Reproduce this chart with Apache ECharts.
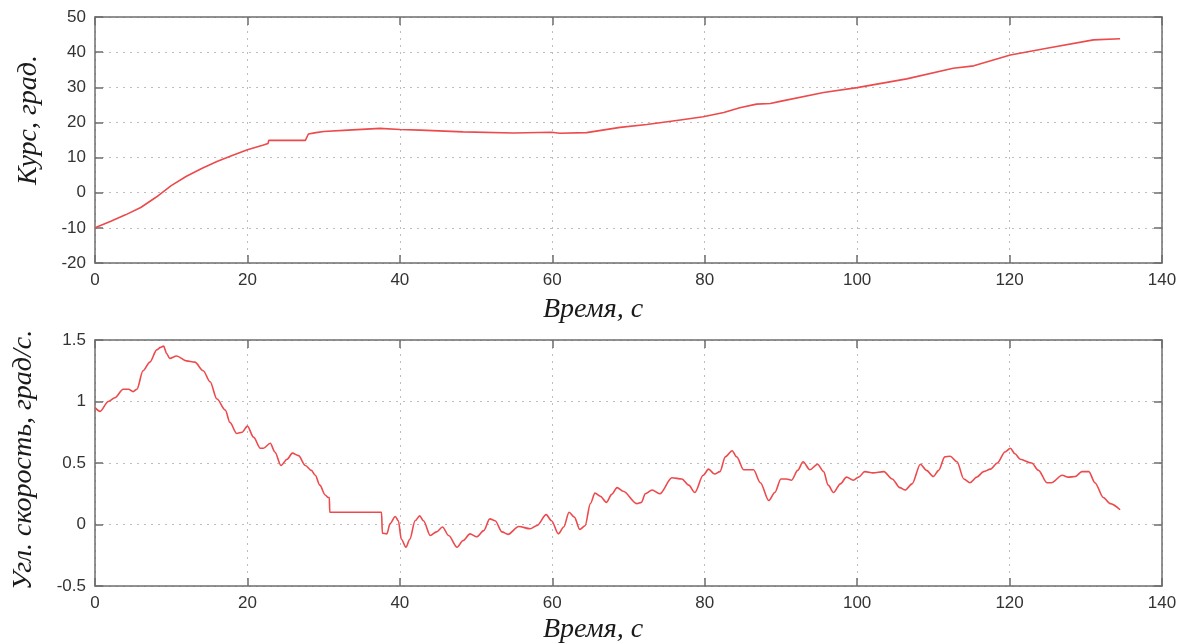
<!DOCTYPE html>
<html>
<head>
<meta charset="utf-8">
<script src="https://cdn.jsdelivr.net/npm/echarts@6/dist/echarts.min.js"></script>
<style>
  html, body { margin: 0; padding: 0; background: #fff; }
  #chart { width: 1184px; height: 644px; }
</style>
</head>
<body>
<div id="chart"></div>
<script>
// Heading, deg, over time
const courseT = [0, 2, 4, 6, 8, 10, 12, 14, 16, 18, 20, 22, 22.7, 22.8, 27.6, 28.0, 29.0, 30.0, 33.2, 37.4, 40.0, 42.7, 48.3, 54.9, 59.9, 61.0, 64.5, 68.9, 72.4, 76.8, 79.8, 82.5, 84.6, 86.8, 88.6, 89.9, 95.6, 100.0, 106.5, 112.6, 115.3, 120.1, 124.9, 131.0, 134.5];
const courseV = [-10, -8.2, -6.3, -4.2, -1.3, 2.0, 4.7, 6.9, 8.9, 10.6, 12.2, 13.5, 14.0, 14.9, 14.9, 16.7, 17.1, 17.4, 17.8, 18.3, 18.0, 17.8, 17.3, 17.0, 17.2, 16.9, 17.1, 18.6, 19.4, 20.7, 21.6, 22.8, 24.2, 25.2, 25.4, 26.0, 28.5, 29.9, 32.4, 35.4, 36.1, 39.2, 41.1, 43.5, 43.8];

// Angular rate, deg/s, over time
const rateT = [0, 0.66, 1.75, 2.6, 3.7, 4.4, 5.0, 5.5, 6.3, 7.2, 8.1, 8.6, 9.0, 9.4, 9.8, 10.7, 12.0, 13.1, 14.2, 15.1, 16.0, 17.1, 17.7, 18.6, 19.3, 20.0, 20.8, 21.7, 22.1, 23.0, 23.6, 24.4, 25.2, 25.9, 26.7, 27.6, 28.4, 28.9, 29.5, 30.2, 30.6, 30.75, 30.8, 37.6, 37.7, 38.3, 38.7, 39.4, 39.8, 40.2, 40.8, 41.3, 42.0, 42.6, 43.1, 44.0, 44.8, 45.6, 46.4, 47.5, 48.3, 49.2, 50.1, 51.0, 51.8, 52.5, 53.4, 54.2, 55.6, 57.1, 58.0, 59.2, 59.9, 60.8, 61.5, 62.2, 62.9, 63.6, 64.3, 65.0, 65.6, 66.3, 67.1, 67.8, 68.5, 69.3, 71.1, 71.7, 72.2, 73.1, 74.1, 75.7, 77.0, 77.9, 78.7, 79.8, 80.5, 81.3, 82.0, 82.7, 83.6, 84.2, 85.1, 86.4, 87.3, 88.4, 89.2, 90.0, 90.7, 91.4, 92.2, 92.9, 93.8, 94.8, 95.6, 96.2, 96.9, 97.8, 98.6, 99.5, 100.2, 101.0, 102.1, 103.5, 104.6, 105.6, 106.3, 107.2, 108.3, 109.1, 110.0, 110.7, 111.5, 112.2, 113.1, 114.0, 114.8, 115.7, 116.6, 117.5, 118.4, 119.4, 120.1, 120.7, 121.4, 122.9, 123.8, 124.9, 125.5, 126.9, 127.7, 128.6, 129.5, 130.4, 131.2, 132.3, 133.2, 134.5];
const rateV = [0.95, 0.92, 1.0, 1.03, 1.10, 1.10, 1.08, 1.10, 1.25, 1.32, 1.42, 1.44, 1.45, 1.39, 1.35, 1.37, 1.33, 1.32, 1.25, 1.16, 1.02, 0.93, 0.83, 0.74, 0.75, 0.80, 0.71, 0.62, 0.62, 0.66, 0.59, 0.48, 0.53, 0.58, 0.56, 0.48, 0.44, 0.40, 0.32, 0.24, 0.22, 0.22, 0.10, 0.10, -0.07, -0.076, 0.005, 0.065, 0.03, -0.12, -0.185, -0.12, 0.03, 0.07, 0.03, -0.09, -0.06, -0.02, -0.09, -0.185, -0.13, -0.076, -0.10, -0.05, 0.046, 0.03, -0.06, -0.08, -0.016, -0.035, -0.008, 0.08, 0.03, -0.076, -0.02, 0.10, 0.06, -0.04, -0.01, 0.17, 0.255, 0.23, 0.18, 0.245, 0.30, 0.27, 0.17, 0.18, 0.25, 0.28, 0.25, 0.38, 0.37, 0.32, 0.26, 0.40, 0.45, 0.41, 0.43, 0.55, 0.60, 0.55, 0.445, 0.445, 0.34, 0.195, 0.26, 0.37, 0.37, 0.36, 0.44, 0.51, 0.445, 0.49, 0.43, 0.32, 0.26, 0.33, 0.385, 0.36, 0.385, 0.43, 0.42, 0.43, 0.37, 0.30, 0.28, 0.33, 0.49, 0.44, 0.39, 0.44, 0.55, 0.555, 0.51, 0.37, 0.34, 0.385, 0.43, 0.45, 0.50, 0.59, 0.62, 0.575, 0.53, 0.50, 0.44, 0.34, 0.34, 0.40, 0.385, 0.39, 0.43, 0.43, 0.34, 0.22, 0.17, 0.12];

// Axis ranges and tick steps
const timeAxis = { min: 0, max: 140, interval: 20 };
const courseAxis = { min: -20, max: 50, interval: 10 };
const rateAxis = { min: -0.5, max: 1.5, interval: 0.5 };

const titles = {
  time: 'Время, с',
  course: 'Курс, град.',
  rate: 'Угл. скорость, град/с.'
};

const lineColor = '#ec4a4c';
const frameColor = '#6e6e6e';
const gridLine = { show: true, lineStyle: { color: '#bdbdbd', type: [2, 5], width: 1 } };
const labelFont = { fontFamily: 'Liberation Sans', fontSize: 17, color: '#333' };
const titleFont = 'italic 28px "Liberation Serif"';

function pairs(xs, ys) { return xs.map((x, i) => [x, ys[i]]); }

function frameAxis(gridIndex, range, position, withLabels) {
  return {
    type: 'value', gridIndex, position, ...range,
    axisLine: { show: true, onZero: false, lineStyle: { color: frameColor, width: 1.5 } },
    axisTick: { show: true, inside: true, length: 8, lineStyle: { color: frameColor, width: 1.5 } },
    axisLabel: withLabels ? { ...labelFont, margin: 9 } : { show: false },
    splitLine: withLabels ? gridLine : { show: false }
  };
}

const chart = echarts.init(document.getElementById('chart'), null, { renderer: 'canvas' });

chart.setOption({
  backgroundColor: '#ffffff',
  animation: false,
  grid: [
    { left: 95, right: 22, top: 17, height: 246 },
    { left: 95, right: 22, top: 340, height: 246 }
  ],
  xAxis: [
    frameAxis(0, timeAxis, 'bottom', true),
    frameAxis(0, timeAxis, 'top', false),
    frameAxis(1, timeAxis, 'bottom', true),
    frameAxis(1, timeAxis, 'top', false)
  ],
  yAxis: [
    frameAxis(0, courseAxis, 'left', true),
    frameAxis(0, courseAxis, 'right', false),
    frameAxis(1, rateAxis, 'left', true),
    frameAxis(1, rateAxis, 'right', false)
  ],
  series: [
    {
      type: 'line', xAxisIndex: 0, yAxisIndex: 0,
      data: pairs(courseT, courseV),
      showSymbol: false,
      lineStyle: { color: lineColor, width: 1.6 }
    },
    {
      type: 'line', xAxisIndex: 2, yAxisIndex: 2,
      data: pairs(rateT, rateV),
      showSymbol: false, smooth: 0.3, smoothMonotone: 'x',
      lineStyle: { color: lineColor, width: 1.6 }
    }
  ],
  graphic: [
    { type: 'text', x: 593, y: 310,
      style: { text: titles.time, font: titleFont, fill: '#1a1a1a', textAlign: 'center', textVerticalAlign: 'middle' } },
    { type: 'text', x: 593, y: 630,
      style: { text: titles.time, font: titleFont, fill: '#1a1a1a', textAlign: 'center', textVerticalAlign: 'middle' } },
    { type: 'text', x: 29, y: 120, rotation: Math.PI / 2,
      style: { text: titles.course, font: titleFont, fill: '#1a1a1a', textAlign: 'center', textVerticalAlign: 'middle' } },
    { type: 'text', x: 24, y: 460, rotation: Math.PI / 2,
      style: { text: titles.rate, font: titleFont, fill: '#1a1a1a', textAlign: 'center', textVerticalAlign: 'middle' } }
  ]
});
</script>
</body>
</html>
